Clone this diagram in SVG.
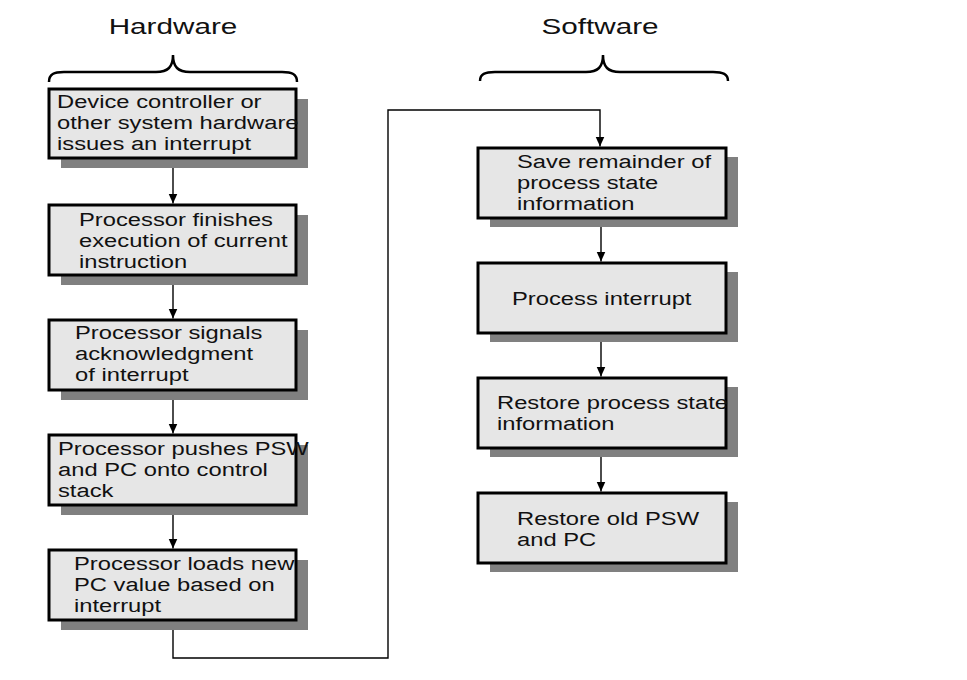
<svg xmlns="http://www.w3.org/2000/svg" width="967" height="680" viewBox="0 0 967 680">
<style>
.sh{fill:#808080}
.bx{fill:#e6e6e6;stroke:#000;stroke-width:3}
.t{font-family:"Liberation Sans",Arial,sans-serif;font-size:18px;fill:#111}
.ti{font-family:"Liberation Sans",Arial,sans-serif;font-size:22.5px;fill:#111;text-anchor:middle}
.c{fill:none;stroke:#000;stroke-width:1.4}
.br{fill:none;stroke:#000;stroke-width:2.5}
</style>
<defs>
<marker id="ah" markerUnits="userSpaceOnUse" markerWidth="12" markerHeight="10" refX="10" refY="4.5" orient="auto">
<path d="M0,0 L10,4.5 L0,9 z" fill="#000"/>
</marker>
</defs>
<rect width="967" height="680" fill="#fff"/>
<g id="titles">
<text class="ti" transform="translate(173,34) scale(1.32,1)">Hardware</text>
<text class="ti" transform="translate(600,34) scale(1.32,1)">Software</text>
<path class="br" d="M49,82 C49,74 54,72 64,72 L156,72 C168,72 173,67 173,55 C173,67 178,72 190,72 L282,72 C292,72 297,74 297,82"/>
<path class="br" d="M480,81 C480,74 485,72 495,72 L586,72 C598,72 603,67 603,55 C603,67 608,72 620,72 L713,72 C723,72 728,74 728,81"/>
</g>
<g id="connectors">
<path class="c" d="M173,159 V203.5" marker-end="url(#ah)"/>
<path class="c" d="M173,275 V318.5" marker-end="url(#ah)"/>
<path class="c" d="M173,390 V433.5" marker-end="url(#ah)"/>
<path class="c" d="M173,505 V548.5" marker-end="url(#ah)"/>
<path class="c" d="M173,620 V658 H388 V110 H600 V146.5" marker-end="url(#ah)"/>
<path class="c" d="M601,218 V261.5" marker-end="url(#ah)"/>
<path class="c" d="M601,333 V376.5" marker-end="url(#ah)"/>
<path class="c" d="M601,448 V491.5" marker-end="url(#ah)"/>
</g>
<g id="n1">
<rect class="sh" x="61" y="99" width="247" height="69"/>
<rect class="bx" x="49" y="89" width="247" height="69"/>
<text class="t" transform="translate(57,108) scale(1.32,1)"><tspan x="0" y="0">Device controller or</tspan><tspan x="0" y="21">other system hardware</tspan><tspan x="0" y="42">issues an interrupt</tspan></text>
</g>
<g id="n2">
<rect class="sh" x="61" y="215" width="247" height="70"/>
<rect class="bx" x="49" y="205" width="247" height="70"/>
<text class="t" transform="translate(79,226) scale(1.32,1)"><tspan x="0" y="0">Processor finishes</tspan><tspan x="0" y="21">execution of current</tspan><tspan x="0" y="42">instruction</tspan></text>
</g>
<g id="n3">
<rect class="sh" x="61" y="330" width="247" height="70"/>
<rect class="bx" x="49" y="320" width="247" height="70"/>
<text class="t" transform="translate(75,339) scale(1.32,1)"><tspan x="0" y="0">Processor signals</tspan><tspan x="0" y="21">acknowledgment</tspan><tspan x="0" y="42">of interrupt</tspan></text>
</g>
<g id="n4">
<rect class="sh" x="61" y="445" width="247" height="70"/>
<rect class="bx" x="49" y="435" width="247" height="70"/>
<text class="t" transform="translate(58,455) scale(1.32,1)"><tspan x="0" y="0">Processor pushes PSW</tspan><tspan x="0" y="21">and PC onto control</tspan><tspan x="0" y="42">stack</tspan></text>
</g>
<g id="n5">
<rect class="sh" x="61" y="560" width="247" height="70"/>
<rect class="bx" x="49" y="550" width="247" height="70"/>
<text class="t" transform="translate(74,570) scale(1.32,1)"><tspan x="0" y="0">Processor loads new</tspan><tspan x="0" y="21">PC value based on</tspan><tspan x="0" y="42">interrupt</tspan></text>
</g>
<g id="n6">
<rect class="sh" x="490" y="157" width="248" height="70"/>
<rect class="bx" x="478" y="148" width="248" height="70"/>
<text class="t" transform="translate(517,168) scale(1.32,1)"><tspan x="0" y="0">Save remainder of</tspan><tspan x="0" y="21">process state</tspan><tspan x="0" y="42">information</tspan></text>
</g>
<g id="n7">
<rect class="sh" x="490" y="272" width="248" height="70"/>
<rect class="bx" x="478" y="263" width="248" height="70"/>
<text class="t" transform="translate(512,305) scale(1.32,1)">Process interrupt</text>
</g>
<g id="n8">
<rect class="sh" x="490" y="387" width="248" height="70"/>
<rect class="bx" x="478" y="378" width="248" height="70"/>
<text class="t" transform="translate(497,409) scale(1.32,1)"><tspan x="0" y="0">Restore process state</tspan><tspan x="0" y="21">information</tspan></text>
</g>
<g id="n9">
<rect class="sh" x="490" y="502" width="248" height="70"/>
<rect class="bx" x="478" y="493" width="248" height="70"/>
<text class="t" transform="translate(517,525) scale(1.32,1)"><tspan x="0" y="0">Restore old PSW</tspan><tspan x="0" y="21">and PC</tspan></text>
</g>
</svg>
